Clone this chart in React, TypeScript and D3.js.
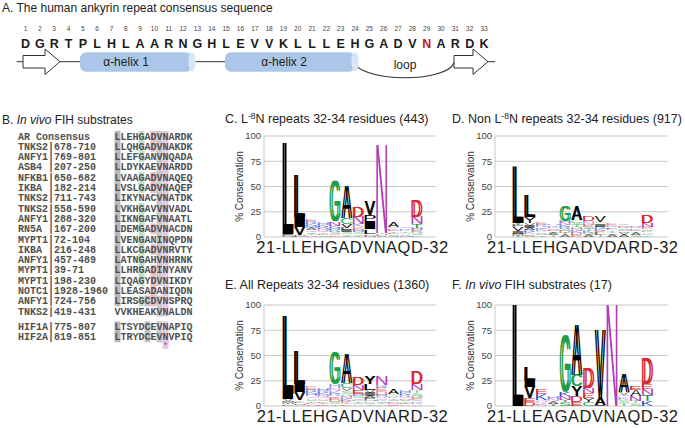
import React from "react";
import * as d3 from "d3";

// ---------- A. consensus sequence ----------
const consensusSeq = "DGRTPLHLAARNGHLEVVKLLLEHGADVNARDK".split("");
const hydroxylatedPos = 29;

// ---------- B. in vivo FIH substrates ----------
const substrateNames = [
  "AR Consensus",
  "TNKS2|678-710",
  "ANFY1|769-801",
  "ASB4 |207-250",
  "NFKB1|650-682",
  "IKBA |182-214",
  "TNKS2|711-743",
  "TNKS2|558-590",
  "ANFY1|288-320",
  "RN5A |167-200",
  "MYPT1|72-104",
  "IKBA |216-248",
  "ANFY1|457-489",
  "MYPT1|39-71",
  "MYPT1|198-230",
  "NOTC1|1928-1960",
  "ANFY1|724-756",
  "TNKS2|419-431",
];
const substrateSeqs = [
  "LLEHGADVNARDK",
  "LLQHGADVNAKDK",
  "LLEFGANVNQADA",
  "LLDYKAEVNARDD",
  "LVAAGADVNAQEQ",
  "LVSLGADVNAQEP",
  "LIKYNACVNATDK",
  "LVKHGAVVNVADL",
  "LIKNGAFVNAATL",
  "LDEMGADVNACDN",
  "LVENGANINQPDN",
  "LLKCGADVNRVTY",
  "LATNGAHVNHRNK",
  "LLHRGADINYANV",
  "LIQAGYDVNIKDY",
  "LLEASADANIQDN",
  "LIRSGCDVNSPRQ",
  "VVKHEAKVNALDN",
];
const hifNames = ["HIF1A|775-807", "HIF2A|819-851"];
const hifSeqs = ["LTSYDCEVNAPIQ", "LTRYDCEVNVPIQ"];

// column, residues that get shaded, shade
const shadeRules: [number, string, string][] = [
  [0, "L", "#b9b9b9"],
  [4, "G", "#bfe3c8"],
  [5, "C", "#c4c4c4"],
  [6, "D", "#f2baba"],
  [7, "VI", "#c9c9c9"],
  [8, "N", "#e6c8e6"],
];

// ---------- C-F. logos: per position, residues bottom -> top, % conservation ----------
type Stack = [string, number][];

const logoL8N: Stack[] = [
  [["M", 0.8], ["F", 0.8], ["I", 1.4], ["L", 90]],
  [["F", 0.8], ["M", 1.5], ["V", 7.5], ["I", 9], ["L", 43]],
  [["N", 1.5], ["T", 1.5], ["S", 1.5], ["Q", 2], ["A", 2], ["H", 2], ["K", 2], ["R", 2], ["E", 2.5]],
  [["S", 1.5], ["E", 1.5], ["T", 1.5], ["Q", 1.5], ["N", 2], ["R", 2], ["K", 2], ["H", 2]],
  [["D", 1.5], ["Q", 1.5], ["S", 2], ["R", 2], ["H", 2], ["K", 2], ["N", 4], ["G", 40]],
  [["T", 1], ["G", 1.5], ["S", 2], ["I", 2], ["L", 2], ["V", 4], ["C", 6], ["A", 32]],
  [["T", 1], ["G", 1.5], ["S", 2], ["H", 2], ["E", 3], ["K", 3.5], ["N", 7], ["D", 10]],
  [["M", 1], ["F", 1.5], ["L", 4], ["A", 1.5], ["I", 8], ["P", 6], ["V", 14]],
  [["S", 1], ["D", 1], ["H", 1], ["T", 1], ["N", 87]],
  [["G", 1], ["S", 1.5], ["D", 1.5], ["T", 1.5], ["E", 1.5], ["K", 1.5], ["V", 1.5], ["A", 5]],
  [["N", 1], ["S", 1.5], ["A", 1.5], ["T", 1.5], ["K", 1.5], ["R", 1.5], ["Q", 1.5]],
  [["K", 1.5], ["S", 1.5], ["G", 2], ["E", 2], ["H", 2], ["T", 4], ["N", 7], ["D", 16]],
];

const logoNonL8N: Stack[] = [
  [["T", 1], ["M", 2], ["I", 3], ["V", 4], ["F", 2], ["Y", 2], ["L", 56]],
  [["S", 1], ["E", 1.5], ["K", 2], ["R", 2], ["A", 2], ["I", 2], ["V", 3], ["Y", 6], ["L", 21.5]],
  [["T", 1.5], ["N", 1.5], ["S", 1.5], ["A", 1.5], ["K", 2], ["Q", 1.5], ["R", 2], ["E", 3]],
  [["T", 2], ["A", 2], ["S", 1.5], ["E", 1.5], ["N", 1.5], ["K", 1.5], ["R", 1.5], ["H", 1.5]],
  [["A", 2], ["T", 2], ["D", 2], ["S", 2], ["R", 2], ["K", 2], ["N", 2], ["H", 2], ["G", 15]],
  [["E", 2], ["D", 2], ["K", 2], ["N", 2], ["G", 2], ["T", 2], ["S", 2], ["C", 2.5], ["A", 13.5]],
  [["A", 2], ["G", 2], ["K", 2], ["T", 2], ["S", 2], ["E", 2], ["N", 3.5], ["D", 5.5]],
  [["T", 2], ["L", 2], ["E", 2], ["K", 2], ["R", 2], ["I", 2], ["S", 1.5], ["A", 1.5], ["V", 6]],
  [["A", 2], ["S", 1.5], ["Y", 1.5], ["T", 1.5], ["K", 1.5], ["L", 1.5], ["R", 1.5], ["E", 2]],
  [["A", 2], ["V", 2], ["T", 1.5], ["N", 1.5], ["S", 1.5], ["R", 1.5], ["E", 1.5], ["C", 1.5]],
  [["S", 2], ["A", 2], ["T", 1.5], ["E", 1.5], ["K", 1.5], ["R", 1.5], ["N", 1.5]],
  [["T", 1.5], ["G", 1.5], ["A", 1.5], ["K", 1.5], ["S", 1.5], ["E", 2], ["N", 4], ["D", 7]],
];

const logoAll: Stack[] = [
  [["F", 1.5], ["M", 2], ["V", 3.5], ["I", 5], ["L", 77]],
  [["A", 1], ["M", 1.5], ["F", 1.5], ["Y", 1.5], ["V", 8], ["I", 8.5], ["L", 33]],
  [["N", 1.5], ["D", 1.5], ["T", 1.5], ["S", 1.5], ["A", 1.5], ["Q", 2], ["H", 2], ["K", 2], ["R", 2.5], ["E", 3.5]],
  [["E", 1.5], ["T", 1.5], ["D", 1.5], ["S", 1.5], ["A", 1.5], ["Q", 1.5], ["N", 2], ["K", 2], ["R", 2], ["H", 2]],
  [["T", 1.5], ["S", 2], ["D", 2], ["E", 2], ["Q", 2], ["R", 2.5], ["K", 3], ["N", 3], ["H", 3.5], ["G", 32.5]],
  [["D", 1.5], ["T", 1.5], ["E", 2], ["K", 2], ["N", 2], ["G", 2.5], ["S", 3], ["V", 3], ["C", 5], ["A", 28.5]],
  [["A", 1.5], ["G", 1.5], ["T", 1.5], ["K", 1.5], ["Q", 1.5], ["S", 2], ["H", 2], ["E", 4], ["N", 5], ["D", 7]],
  [["T", 1.5], ["S", 1.5], ["K", 1.5], ["M", 1.5], ["F", 2], ["A", 2], ["I", 3], ["V", 3], ["L", 6], ["Y", 7]],
  [["A", 1.5], ["T", 1.5], ["S", 1.5], ["K", 1.5], ["Q", 1.5], ["V", 1.5], ["H", 2], ["D", 3.5], ["E", 3.5], ["R", 2.5], ["N", 8.5]],
  [["E", 1.5], ["N", 1.5], ["D", 1.5], ["S", 1.5], ["T", 1.5], ["K", 1.5], ["V", 1.5], ["C", 1.5], ["A", 5]],
  [["A", 1.5], ["E", 1.5], ["T", 1.5], ["S", 1.5], ["N", 1.5], ["Q", 1.5], ["R", 2], ["K", 2], ["H", 2]],
  [["A", 1.5], ["K", 1.5], ["R", 1.5], ["Q", 1.5], ["E", 2], ["G", 2], ["S", 3], ["T", 3], ["N", 6], ["D", 12]],
];

const logoFIH: Stack[] = [
  [["L", 100]],
  [["D", 4], ["E", 4], ["V", 11], ["I", 7], ["L", 13]],
  [["A", 1], ["D", 1.5], ["Q", 3], ["K", 6], ["E", 5]],
  [["Y", 2], ["A", 2.5], ["N", 2.5], ["H", 2.5]],
  [["S", 4], ["Y", 2], ["N", 4], ["K", 4], ["G", 56]],
  [["E", 4], ["D", 6], ["Y", 10], ["C", 11], ["A", 49]],
  [["C", 4], ["Y", 4], ["E", 5], ["N", 5], ["D", 20]],
  [["I", 1], ["A", 7], ["V", 67]],
  [["N", 100]],
  [["T", 3], ["S", 3], ["K", 3], ["Q", 2], ["V", 3], ["A", 17]],
  [["S", 2.5], ["T", 2.5], ["N", 5], ["A", 6], ["E", 4]],
  [["K", 5], ["T", 6], ["N", 6], ["E", 5], ["D", 25]],
];

const yTicks = [0, 25, 50, 75, 100];

const SANS = "'Liberation Sans', Arial, Helvetica, sans-serif";
const MONO = "'Liberation Mono', 'Courier New', monospace";

const residueColor = (r: string) =>
  "GSTC".includes(r)
    ? "#1f9e46"
    : "DE".includes(r)
    ? "#d62a2e"
    : "NQ".includes(r)
    ? "#b341b3"
    : "KRH".includes(r)
    ? "#2a4cd0"
    : "#000";

// ink box of a glyph, measured once on a canvas
const glyphCache = new Map<string, { x0: number; x1: number; asc: number; desc: number }>();
function glyphBox(ch: string) {
  let b = glyphCache.get(ch);
  if (!b) {
    const ctx = document.createElement("canvas").getContext("2d")!;
    ctx.font = `100px "Liberation Sans"`;
    const m = ctx.measureText(ch);
    b = {
      x0: -m.actualBoundingBoxLeft,
      x1: m.actualBoundingBoxRight,
      asc: m.actualBoundingBoxAscent,
      desc: m.actualBoundingBoxDescent,
    };
    glyphCache.set(ch, b);
  }
  return b;
}

const PanelA: React.FC = () => {
  const x = d3.scalePoint<number>().domain(d3.range(1, 34)).range([25.5, 484]);
  const cy = 61.7;
  const arrow = (x0: number, xb: number, xt: number) =>
    `M${x0},55.5 L${xb},55.5 L${xb},49 L${xt},${cy} L${xb},74.5 L${xb},68 L${x0},68 Z`;
  return (
    <g fontFamily={SANS}>
      <text x={2} y={12} fontSize={12} fill="#222">
        A. The human ankyrin repeat consensus sequence
      </text>
      {consensusSeq.map((r, i) => (
        <g key={i}>
          <text x={x(i + 1)} y={30.5} fontSize={6.5} fill="#444" textAnchor="middle">
            {i + 1}
          </text>
          <text
            x={x(i + 1)}
            y={47.5}
            fontSize={12.5}
            fontWeight="bold"
            textAnchor="middle"
            fill={i + 1 === hydroxylatedPos ? "#c4161c" : "#1a1a1a"}
          >
            {r}
          </text>
        </g>
      ))}
      {/* strand / helix / loop schematic */}
      <g stroke="#333" strokeWidth={1} fill="none">
        <line x1={16.5} x2={23} y1={cy} y2={cy} />
        <line x1={60} x2={80} y1={cy} y2={cy} />
        <line x1={192} x2={225} y1={cy} y2={cy} />
        <line x1={488} x2={495} y1={cy} y2={cy} />
        <path d={arrow(23, 45, 60)} fill="#fff" />
        <path d={arrow(454, 473, 488)} fill="#fff" />
        <path d={`M351,58 C356,84 447,83 454,${cy + 1}`} strokeWidth={1.1} />
      </g>
      {[
        [80, 192, "α-helix 1", 126],
        [225, 355, "α-helix 2", 284],
      ].map(([a, b, t, tx]) => (
        <g key={t as string}>
          <rect x={a as number} y={52.3} width={(b as number) - (a as number)} height={19.4} rx={6} fill="#abc6e8" />
          <ellipse cx={b as number} cy={cy} rx={3.6} ry={9.7} fill="#d9e6f5" />
          <text x={tx as number} y={cy + 4} fontSize={12} textAnchor="middle" fill="#222">
            {t}
          </text>
        </g>
      ))}
      <text x={405} y={69} fontSize={12} textAnchor="middle" fill="#222">
        loop
      </text>
    </g>
  );
};

const PanelB: React.FC = () => {
  const nameX = 18;
  const seqX = (c: number) => 117.5 + c * 6;
  const rowY = d3.scaleLinear().domain([0, 1]).range([136, 146.3]);
  const rows = [
    ...substrateNames.map((n, i) => ({ name: n, seq: substrateSeqs[i], y: rowY(i) })),
    ...hifNames.map((n, i) => ({ name: n, seq: hifSeqs[i], y: rowY(18.5 + i) })),
  ];
  const rh = rowY(1) - rowY(0);
  return (
    <g>
      <text x={2} y={124} fontSize={12} fontFamily={SANS} fill="#222">
        B. <tspan fontStyle="italic">In vivo</tspan> FIH substrates
      </text>
      {rows.map((row) =>
        shadeRules.map(([c, set, fill]) =>
          set.includes(row.seq[c]) ? (
            <rect key={row.name + c} x={seqX(c) - 3} y={row.y - rh / 2} width={6} height={rh + 0.3} fill={fill} />
          ) : null
        )
      )}
      <rect x={seqX(8) - 3} y={rowY(20.2) - 4} width={6} height={9} fill="#e6c8e6" />
      <text x={seqX(8)} y={rowY(20.2) + 5} fontSize={9} textAnchor="middle" fill="#b03a90" fontFamily={MONO}>
        *
      </text>
      <g fontFamily={MONO} fontSize={10} fontWeight="bold" fill="#505050">
        {rows.map((row) => (
          <g key={row.name}>
            <text x={nameX} y={row.y} dy="0.35em">
              {row.name}
            </text>
            {row.seq.split("").map((r, c) => (
              <text key={c} x={seqX(c)} y={row.y} dy="0.35em" textAnchor="middle">
                {r}
              </text>
            ))}
          </g>
        ))}
      </g>
    </g>
  );
};

interface LogoProps {
  stacks: Stack[];
  title: React.ReactNode;
  label: string;
  axisX: number;
  right: number;
  x0: number;
  x1: number;
  yTop: number;
  yBottom: number;
  titleX: number;
  titleY: number;
}

const LogoPanel: React.FC<LogoProps> = ({ stacks, title, label, axisX, right, x0, x1, yTop, yBottom, titleX, titleY }) => {
  const y = d3.scaleLinear().domain([0, 100]).range([yBottom, yTop]);
  const col = d3.scaleBand<number>().domain(d3.range(stacks.length)).range([x0, x1]).paddingInner(0.06);
  return (
    <g fontFamily={SANS}>
      <text x={titleX} y={titleY} fontSize={12.5} fill="#222">
        {title}
      </text>
      {yTicks.map((t) => (
        <g key={t}>
          <line x1={axisX} x2={right} y1={y(t)} y2={y(t)} stroke="#c8c8c8" />
          <text x={axisX - 3} y={y(t)} dy="0.35em" fontSize={9.5} textAnchor="end" fill="#444">
            {t}
          </text>
        </g>
      ))}
      <line x1={axisX} x2={axisX} y1={y(0)} y2={y(100)} stroke="#c8c8c8" />
      <text
        transform={`translate(${axisX - 21},${(yTop + yBottom) / 2}) rotate(-90)`}
        fontSize={10}
        textAnchor="middle"
        fill="#333"
      >
        % Conservation
      </text>
      {stacks.map((stack, i) => {
        let cum = 0;
        return stack.map(([r, h], k) => {
          const top = y(cum + h);
          const ph = y(cum) - top;
          cum += h;
          // tall glyphs get a second copy shifted sideways: heavier stems, same height
          const dx = r === "N" ? 0 : ph > 15 ? 2 : ph > 7 ? 1 : 0;
          const w = col.bandwidth() - dx;
          const b = glyphBox(r);
          const sx = w / (b.x1 - b.x0);
          const sy = ph / (b.asc + b.desc);
          const c = residueColor(r);
          const tf = (ox: number) =>
            `translate(${(col(i) as number) + ox},${top}) scale(${sx},${sy}) translate(${-b.x0},${b.asc})`;
          return (
            <g key={i + "-" + k} fill={c} opacity={ph < 4 ? 0.55 : 1}>
              <text fontSize={100} transform={tf(0)}>
                {r}
              </text>
              {dx > 0 && (
                <text fontSize={100} transform={tf(dx)}>
                  {r}
                </text>
              )}
            </g>
          );
        });
      })}
      <text x={(x0 + x1) / 2} y={yBottom + 16} fontSize={16.5} letterSpacing={0.5} textAnchor="middle" fill="#222">
        {label}
      </text>
    </g>
  );
};

const sup = (s: string) => (
  <>
    <tspan dy={-4.5} fontSize={8.5}>
      {s}
    </tspan>
    <tspan dy={4.5}>N</tspan>
  </>
);

export default function App() {
  const top = { yTop: 136, yBottom: 237, titleY: 123 };
  const bottom = { yTop: 305, yBottom: 406, titleY: 289 };
  const left = { axisX: 264, right: 436, x0: 282.5, x1: 422.5, titleX: 225 };
  const rightCol = { axisX: 495, right: 668, x0: 512.5, x1: 653, titleX: 452 };
  return (
    <div style={{ position: "absolute", left: 0, top: 0 }}>
      <svg width={685} height={428} style={{ display: "block", background: "#fff" }}>
        <PanelA />
        <PanelB />
        <LogoPanel
          {...left}
          {...top}
          stacks={logoL8N}
          label="21-LLEHGADVNAQD-32"
          title={<>C. L{sup("-8")} repeats 32-34 residues (443)</>}
        />
        <LogoPanel
          {...rightCol}
          {...top}
          stacks={logoNonL8N}
          label="21-LLEHGADVDARD-32"
          title={<>D. Non L{sup("-8")} repeats 32-34 residues (917)</>}
        />
        <LogoPanel
          {...left}
          {...bottom}
          stacks={logoAll}
          label="21-LLEHGADVNARD-32"
          title={<>E. All Repeats 32-34 residues (1360)</>}
        />
        <LogoPanel
          {...rightCol}
          {...bottom}
          stacks={logoFIH}
          label="21-LLEAGADVNAQD-32"
          title={
            <>
              F. <tspan fontStyle="italic">In vivo</tspan> FIH substrates (17)
            </>
          }
        />
      </svg>
    </div>
  );
}
